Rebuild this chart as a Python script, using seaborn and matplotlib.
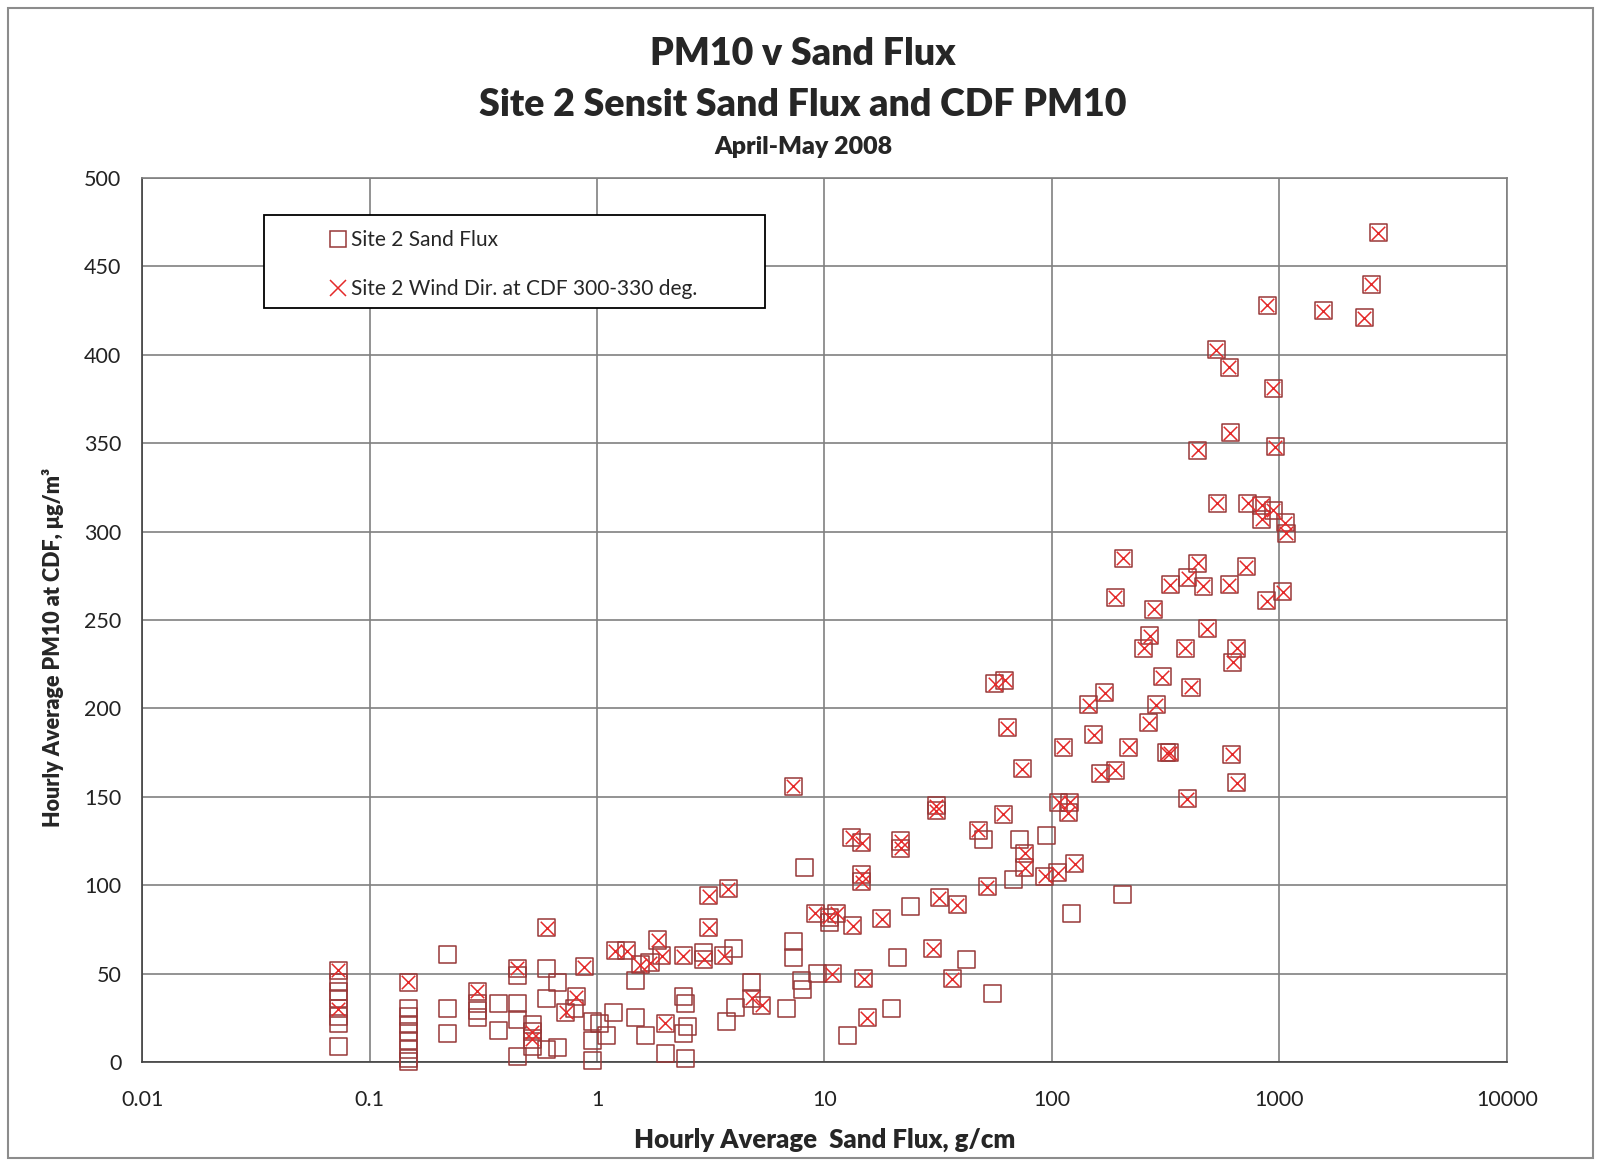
import numpy as np
import pandas as pd
import matplotlib
matplotlib.use("Agg")
import matplotlib.pyplot as plt
from matplotlib.lines import Line2D
from matplotlib.patches import Rectangle
from matplotlib.ticker import FixedLocator, FuncFormatter, MultipleLocator, LogLocator, NullFormatter
import seaborn as sns

# ------------------------------------------------------------------
# Data (hourly sand flux g/cm, PM10 ug/m3)
# ------------------------------------------------------------------
# hours with the wind from 300-330 deg (drawn as square + cross)
flux_wind = [0.073, 0.073, 0.148, 0.297, 0.445, 0.52, 0.52, 0.6, 0.73, 0.81,
             0.88, 1.2, 1.35, 1.55, 1.71, 1.85, 1.93, 2.0, 2.39, 2.95,
             3.1, 3.77, 3.1, 3.6, 4.8, 5.3, 7.3, 9.1, 10.5, 10.8,
             11.3, 13.3, 13.2, 14.6, 14.6, 14.6, 14.9, 15.4, 17.9, 21.6,
             21.6, 30, 31, 31, 32, 36.4, 38.3, 47.4, 52, 56,
             61, 62, 63.5, 74, 76, 76, 93, 106, 107, 120,
             118, 112, 126, 145, 153, 164, 171, 190, 206, 190,
             218, 254, 267, 270, 281, 287, 306, 320, 330, 331,
             386, 393, 396, 409, 438, 438, 462, 482, 527, 533,
             601, 603, 609, 618, 624, 650, 650, 715, 727, 836,
             836, 880, 885, 940, 940, 960, 1035, 1063, 1075, 1560,
             2360, 2540, 2720]
pm10_wind = [52, 30, 45, 40, 53, 17, 13, 76, 28, 37,
             54, 63, 63, 55, 56, 69, 60, 22, 60, 58,
             94, 98, 76, 60, 36, 32, 156, 84, 82, 50,
             84, 77, 127, 124, 106, 102, 47, 25, 81, 125,
             121, 64, 145, 142, 93, 47, 89, 131, 99, 214,
             140, 216, 189, 166, 118, 110, 105, 107, 147, 147,
             141, 178, 112, 202, 185, 163, 209, 165, 285, 263,
             178, 234, 192, 241, 256, 202, 218, 175, 175, 270,
             234, 149, 274, 212, 282, 346, 269, 245, 403, 316,
             270, 393, 356, 174, 226, 234, 158, 280, 316, 315,
             307, 261, 428, 381, 312, 348, 266, 305, 299, 425,
             421, 440, 469]

# all other hours (square only)
flux_other = [0.073, 0.073, 0.073, 0.073, 0.073, 0.073,
              0.148, 0.148, 0.148, 0.148, 0.148, 0.148, 0.148, 0.148,
              0.22, 0.22, 0.22, 0.297, 0.297, 0.297, 0.37, 0.37,
              0.445, 0.445, 0.445, 0.445, 0.52, 0.52, 0.6, 0.6, 0.6,
              0.67, 0.67, 0.8, 0.96, 0.96, 0.96, 1.03, 1.1, 1.18,
              1.48, 1.48, 1.63, 2.0, 2.39, 2.39, 2.45, 2.5, 2.46, 2.95,
              3.7, 4.0, 4.05, 4.8, 6.8, 7.3, 7.3, 7.9, 8.0, 8.2,
              9.3, 10.5, 12.6, 19.8, 20.9, 23.8, 42, 50, 55, 68,
              72, 95, 122, 204]
pm10_other = [45, 40, 36, 26, 22, 9,
              30, 26, 21, 17, 12, 7, 2, 0,
              61, 30, 16, 33, 29, 25, 33, 18,
              49, 33, 24, 3, 21, 9, 53, 36, 7,
              45, 8, 30, 23, 12, 1, 22, 15, 28,
              46, 25, 15, 5, 37, 16, 33, 20, 2, 62,
              23, 64, 31, 45, 30, 68, 59, 46, 41, 110,
              50, 79, 15, 30, 59, 88, 58, 126, 39, 103,
              126, 128, 84, 95]

x_ticks = [0.01, 0.1, 1, 10, 100, 1000, 10000]
y_ticks = [0, 50, 100, 150, 200, 250, 300, 350, 400, 450, 500]

flux_all = flux_other + flux_wind
pm10_all = pm10_other + pm10_wind

sq_color = "#973838"
x_color = "#e42a2a"
grid_color = "#808080"

sns.set_style("white")
plt.rcParams["font.family"] = ["Lato", "DejaVu Sans"]

fig = plt.figure(figsize=(16.06, 11.6), dpi=100)
ax = fig.add_axes([0.0885, 0.0845, 0.8497, 0.762])

# squares for every hour, crosses on top for the wind-sector hours
sns.scatterplot(x=flux_all, y=pm10_all, ax=ax, marker="s", s=150,
                color=sq_color, facecolors="none", edgecolor=sq_color,
                linewidth=1.1, clip_on=False, zorder=3)
sns.scatterplot(x=flux_wind, y=pm10_wind, ax=ax, marker="x", s=95,
                color=x_color, linewidth=1.1, clip_on=False, zorder=4)

ax.set_xscale("log")
ax.set_xlim(0.01, 10000)
ax.set_ylim(0, 500)

ax.xaxis.set_major_locator(FixedLocator(x_ticks))
ax.xaxis.set_major_formatter(FuncFormatter(lambda v, p: f"{v:g}"))
ax.xaxis.set_minor_locator(LogLocator(base=10, subs=np.arange(2, 10)))
ax.xaxis.set_minor_formatter(NullFormatter())
ax.yaxis.set_major_locator(FixedLocator(y_ticks))
ax.yaxis.set_minor_locator(MultipleLocator(10))

ax.grid(True, which="major", color=grid_color, linewidth=1.2)
ax.tick_params(axis="both", which="major", direction="out", length=6,
               width=1, color="#404040", labelsize=15.5, labelcolor="#222222")
ax.tick_params(axis="both", which="minor", direction="in", length=5,
               width=0.8, color="#606060")
ax.tick_params(axis="x", which="major", pad=14)
ax.tick_params(axis="y", which="major", pad=9)

for side in ["left", "bottom"]:
    ax.spines[side].set_color("#404040")
    ax.spines[side].set_linewidth(1.2)
for side in ["top", "right"]:
    ax.spines[side].set_color(grid_color)
    ax.spines[side].set_linewidth(1.2)

ax.set_xlabel("Hourly Average  Sand Flux, g/cm", fontsize=18.5, fontweight="heavy",
              labelpad=13)
ax.set_ylabel("Hourly Average PM10 at CDF, μg/m³", fontsize=15.5, fontweight="heavy")
ax.yaxis.set_label_coords(-0.057, 0.469)

# titles
fig.text(0.5, 1 - 54 / 1160, "PM10 v Sand Flux", ha="center", va="center",
         fontsize=27, fontweight="heavy")
fig.text(0.5, 1 - 105 / 1160, "Site 2 Sensit Sand Flux and CDF PM10", ha="center",
         va="center", fontsize=27, fontweight="heavy")
fig.text(0.5, 1 - 147 / 1160, "April-May 2008", ha="center", va="center",
         fontsize=18, fontweight="heavy")

# legend box
ax.add_patch(Rectangle((0.0894, 0.853), 0.367, 0.105, transform=ax.transAxes,
                       facecolor="white", edgecolor="black", linewidth=1.3,
                       zorder=5, clip_on=False))
handles = [
    Line2D([], [], linestyle="none", marker="s", markersize=11,
           markerfacecolor="none", markeredgecolor=sq_color, markeredgewidth=1.1),
    Line2D([], [], linestyle="none", marker="x", markersize=12,
           color=x_color, markeredgewidth=1.1),
]
leg = ax.legend(handles, ["Site 2 Sand Flux", "Site 2 Wind Dir. at CDF 300-330 deg."],
                loc="upper left", bbox_to_anchor=(0.1285, 0.953), frameon=False,
                fontsize=15, handlelength=0.95, handletextpad=0.15, borderpad=0,
                labelspacing=1.4)
leg.set_zorder(6)

# outer chart border
fig.patches.append(Rectangle((0.005, 0.002), 0.987, 0.991, transform=fig.transFigure,
                             facecolor="none", edgecolor="#8c8c8c", linewidth=1.5))

fig.savefig("out.png", dpi=100)
